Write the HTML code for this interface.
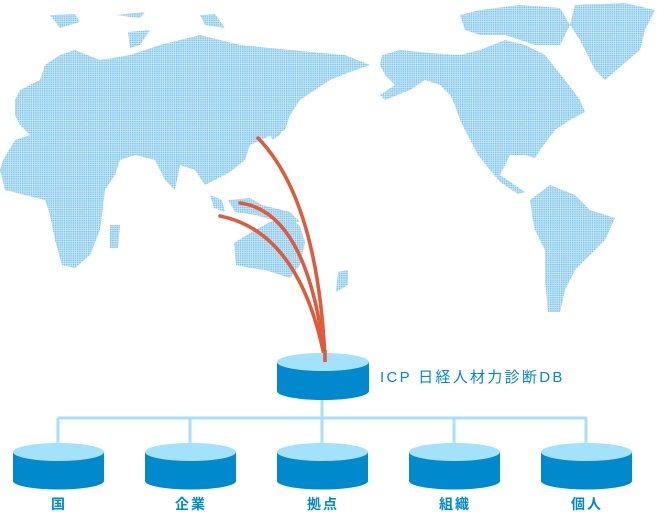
<!DOCTYPE html>
<html><head><meta charset="utf-8"><style>
html,body{margin:0;padding:0;background:#fff;width:657px;height:512px;overflow:hidden}
svg{display:block}
</style></head><body>
<svg width="657" height="512" viewBox="0 0 657 512" xmlns="http://www.w3.org/2000/svg">
<defs>
<pattern id="d" width="2.2" height="2.2" patternUnits="userSpaceOnUse">
<rect width="2.2" height="2.2" fill="#d2ecf9"/>
<rect width="1.5" height="1.5" fill="#7cc4ec"/>
</pattern>
</defs>
<g fill="url(#d)">
<polygon points="15,100 20,90 40,80 45,65 60,55 75,50 100,60 130,55 160,45 200,35 240,45 290,50 345,55 370,65 350,72 330,80 315,90 300,100 290,115 285,130 265,138 250,145 245,160 230,172 215,180 205,185 195,170 180,165 175,190 165,180 155,160 135,155 120,160 115,175 105,190 102,215 100,230 90,255 75,268 62,265 55,240 50,215 45,200 25,195 5,190 0,170 3,160 15,140 30,135 20,125 15,115"/>
<polygon points="50,15 75,14 80,22 60,28"/>
<polygon points="115,15 145,12 140,18"/>
<polygon points="200,15 215,14 225,28 205,25"/>
<polygon points="128,32 150,30 140,45 130,48"/>
<polygon points="110,225 120,225 118,248 110,248"/>
<polygon points="210,195 222,200 225,212 214,208"/>
<polygon points="228,200 250,198 262,205 290,212 300,222 280,222 255,215 235,212"/>
<polygon points="234,243 255,230 270,222 288,216 300,226 305,242 300,265 290,278 265,270 250,268 236,265"/>
<polygon points="278,100 285,100 287,115 280,135 272,140 270,130"/>
<polygon points="338,272 348,270 348,285 336,292"/>
<polygon points="382,55 400,50 430,53 460,55 480,50 505,40 525,45 545,55 565,80 580,100 585,112 570,120 555,130 540,150 535,158 525,155 510,155 505,165 500,175 515,185 525,192 518,194 500,182 490,170 478,155 470,140 460,120 455,105 450,95 440,85 425,80 410,90 385,100 380,95 395,85 385,75 380,65"/>
<polygon points="460,15 480,10 520,5 560,8 570,25 560,45 535,45 505,35 480,35 465,30"/>
<polygon points="575,5 625,3 655,10 645,30 640,50 605,80 595,70 580,40 570,25"/>
<polygon points="530,200 550,185 575,195 590,210 615,218 605,240 595,250 575,270 565,290 560,312 548,312 545,280 545,250 535,230 532,215"/>
</g>
<g fill="none" stroke="#e05a3c" stroke-width="3.6" stroke-linecap="round">
<path d="M258,138 Q318,200 325,360"/>
<path d="M240,203 Q308,212 325,360"/>
<path d="M220,216 Q300,232 325,360"/>
</g>
<g stroke="#a6e1f7" stroke-width="3" fill="none">
<line x1="322" y1="395" x2="322" y2="418"/>
<line x1="58" y1="418" x2="587" y2="418"/>
<line x1="58" y1="418" x2="58" y2="446"/>
<line x1="190" y1="418" x2="190" y2="446"/>
<line x1="322" y1="418" x2="322" y2="446"/>
<line x1="454" y1="418" x2="454" y2="446"/>
<line x1="586" y1="418" x2="586" y2="446"/>
</g>
<g>
<path d="M277,362 L277,391 A46,9 0 0 0 369,391 L369,362 Z" fill="#0089cc"/>
<ellipse cx="323" cy="362" rx="46" ry="9" fill="#a3e2fa"/>
</g>
<path d="M325,362 L325,350" stroke="#e05a3c" stroke-width="3.6"/>
<g id="c">
<path d="M13,452 L13,481 A45.5,8.5 0 0 0 104,481 L104,452 Z" fill="#0089cc"/>
<ellipse cx="58.5" cy="452" rx="45.5" ry="9" fill="#a3e2fa"/>
</g>
<use href="#c" x="132"/><use href="#c" x="264"/><use href="#c" x="396"/><use href="#c" x="528"/>
<text x="380" y="382" font-family="Liberation Sans, Noto Sans CJK JP, sans-serif" font-size="15" fill="#0089cc" letter-spacing="2.3">ICP 日経人材力診断DB</text>
<g font-family="Liberation Sans, Noto Sans CJK JP, sans-serif" font-size="14" font-weight="bold" fill="#0089cc" text-anchor="middle" letter-spacing="2">
<text x="59" y="509">国</text>
<text x="191" y="509">企業</text>
<text x="323" y="509">拠点</text>
<text x="455" y="509">組織</text>
<text x="587" y="509">個人</text>
</g>
</svg>
</body></html>
